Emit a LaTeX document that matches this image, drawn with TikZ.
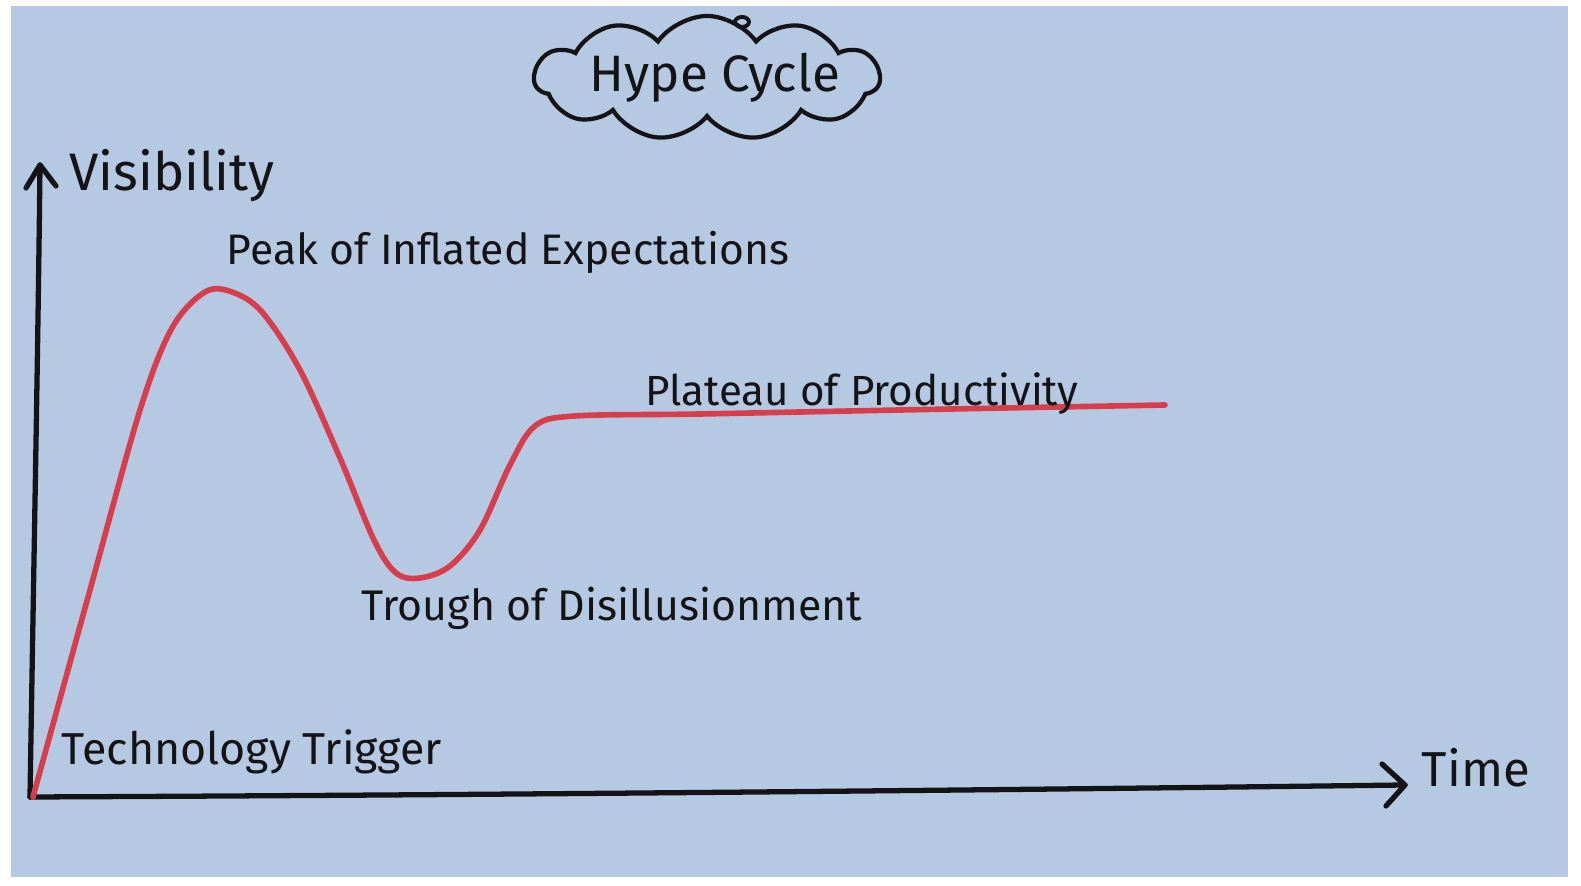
\documentclass[tikz,border=0pt]{standalone}
\usepackage{fontspec}
\usepackage{graphicx}
\setmainfont{Fira Sans}
\usetikzlibrary{shapes.symbols}
\definecolor{paper}{RGB}{182,201,227}
\definecolor{curvered}{RGB}{214,62,76}
\definecolor{ink}{RGB}{20,20,22}
\newcommand{\fitw}[2]{\resizebox{#1}{!}{#2}}
\tikzset{
  axisline/.style={draw=ink, line width=1.5pt, line cap=round, line join=round},
  hypeline/.style={draw=curvered, line width=1.6pt, line cap=round},
  label/.style={text=ink, inner sep=0pt, font=\large},
}
\begin{document}
\begin{tikzpicture}[x=0.01cm,y=-0.01cm]
\useasboundingbox (0,0) rectangle (1581,886);
\fill[white] (0,0) rectangle (1581,886);
\fill[paper] (11,6) rectangle (1568,877);
% axes
\coordinate (O) at (30,797);
\coordinate (ytop) at (40,165);
\coordinate (xend) at (1405,785);
\draw[axisline] (O) .. controls (34,550) and (38,350) .. (ytop);
\draw[axisline] (26,188) -- (ytop) -- (56,186);
\draw[axisline] (O) .. controls (500,795) and (1000,790) .. (xend);
\draw[axisline] (1382,764) -- (xend) -- (1386,806);
% curve
\draw[hypeline] plot[smooth, tension=0.55] coordinates {
 (33,797) (90,590) (140,410) (172,328) (205,292) (232,292) (262,312) (300,370)
 (340,458) (374,540) (396,573) (420,578) (450,566) (480,530) (510,465)
 (535,426) (575,416) (700,414) (900,410) (1165,405)};
% labels
\node[label] (vis) at (172,176) {\fitw{2.05cm}{Visibility}};
\node[label] (peak) at (508,252) {\fitw{5.62cm}{Peak of Inflated Expectations}};
\node[label] (plat) at (862,394) {\fitw{4.33cm}{Plateau of Productivity}};
\node[label] (trough) at (612,608) {\fitw{5.0cm}{Trough of Disillusionment}};
\node[label] (trig) at (252,752) {\fitw{3.8cm}{Technology Trigger}};
\node[label] (time) at (1476,768) {\fitw{1.08cm}{Time}};
% title cloud
\node[cloud, cloud puffs=11, cloud puff arc=110, aspect=2.8, draw=ink, line width=1.2pt,
      minimum width=3.45cm, minimum height=1.24cm, inner sep=0pt] (cloud) at (707,78) {};
\node[label] (title) at (715,78) {\fitw{2.5cm}{Hype Cycle}};
\draw[ink, line width=1.1pt] (742,22) ellipse (7 and 5);
\end{tikzpicture}
\end{document}
